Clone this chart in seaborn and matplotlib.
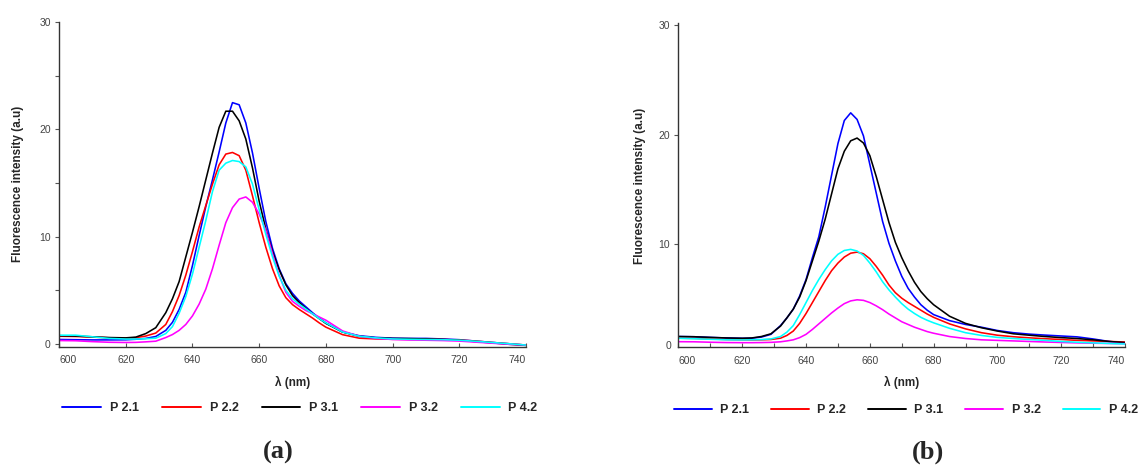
import numpy as np
import pandas as pd
import matplotlib
matplotlib.use("Agg")
import matplotlib.pyplot as plt
import matplotlib.transforms as mtransforms
from matplotlib.lines import Line2D
import seaborn as sns

# ---------------- data ----------------
wavelength = [600, 605, 610, 615, 620, 623, 626, 629,
              632, 634, 636, 638, 640, 642, 644, 646, 648, 650, 652, 654, 656, 658,
              660, 662, 664, 666, 668, 670, 672, 674, 676, 678,
              680, 685, 690, 695, 700, 705, 710, 715, 720, 725, 730, 735, 740]

samples = ["P 2.1", "P 2.2", "P 3.1", "P 3.2", "P 4.2"]
colors = ["#0000FF", "#FF0000", "#000000", "#FF00FF", "#00FFFF"]

# panel (a)
a_p21 = [0.40, 0.38, 0.36, 0.36, 0.37, 0.42, 0.50, 0.68,
         1.25, 2.0, 3.2, 4.8, 7.3, 10.1, 12.8, 15.3, 17.9, 20.6, 22.5, 22.3, 20.6, 17.8,
         14.5, 11.4, 8.9, 7.0, 5.6, 4.7, 4.0, 3.45, 2.9, 2.4,
         1.95, 1.1, 0.75, 0.60, 0.52, 0.50, 0.50, 0.45, 0.38, 0.25, 0.12, 0.00, -0.12]
a_p22 = [0.70, 0.68, 0.62, 0.56, 0.53, 0.57, 0.72, 1.0,
         1.8, 3.0, 4.5, 6.4, 8.6, 10.9, 12.9, 14.9, 16.7, 17.7, 17.85, 17.55, 16.2, 13.8,
         11.3, 9.0, 7.0, 5.4, 4.3, 3.65, 3.2, 2.8, 2.4, 1.95,
         1.55, 0.85, 0.52, 0.45, 0.42, 0.42, 0.42, 0.40, 0.35, 0.25, 0.12, 0.00, -0.12]
a_p31 = [0.75, 0.72, 0.65, 0.58, 0.55, 0.62, 0.95, 1.5,
         2.9, 4.2, 5.8, 8.1, 10.4, 12.8, 15.3, 17.8, 20.2, 21.7, 21.7, 20.8, 19.1, 16.4,
         13.3, 10.7, 8.6, 6.9, 5.5, 4.5, 3.85, 3.3, 2.8, 2.35,
         1.9, 1.1, 0.70, 0.55, 0.50, 0.48, 0.45, 0.40, 0.33, 0.20, 0.08, -0.05, -0.15]
a_p32 = [0.30, 0.28, 0.20, 0.14, 0.12, 0.13, 0.18, 0.24,
         0.58, 0.86, 1.25, 1.8, 2.6, 3.7, 5.1, 7.0, 9.2, 11.3, 12.7, 13.5, 13.7, 13.2,
         12.1, 10.6, 8.4, 6.4, 4.8, 3.95, 3.5, 3.1, 2.8, 2.5,
         2.2, 1.2, 0.70, 0.50, 0.40, 0.35, 0.33, 0.30, 0.25, 0.15, 0.05, -0.05, -0.12]
a_p42 = [0.80, 0.80, 0.65, 0.50, 0.44, 0.44, 0.47, 0.52,
         0.95, 1.6, 2.85, 4.4, 6.5, 9.0, 11.5, 14.2, 16.2, 16.85, 17.1, 17.0, 16.5, 14.9,
         12.5, 10.2, 8.1, 6.3, 5.0, 4.2, 3.7, 3.25, 2.8, 2.35,
         1.95, 1.1, 0.70, 0.55, 0.45, 0.42, 0.40, 0.38, 0.33, 0.23, 0.12, 0.00, -0.12]

# panel (b)
b_p21 = [1.60, 1.58, 1.52, 1.47, 1.44, 1.45, 1.55, 1.8,
         2.6, 3.3, 4.1, 5.3, 6.8, 8.8, 10.7, 13.4, 16.3, 19.2, 21.3, 22.0, 21.4, 19.9,
         17.3, 14.7, 12.1, 10.1, 8.5, 7.1, 6.0, 5.2, 4.5, 4.0,
         3.6, 3.05, 2.7, 2.45, 2.15, 1.95, 1.82, 1.73, 1.65, 1.57, 1.38, 1.15, 1.00]
b_p22 = [1.45, 1.43, 1.38, 1.33, 1.30, 1.29, 1.30, 1.33,
         1.45, 1.7, 2.1, 2.8, 3.7, 4.7, 5.7, 6.7, 7.6, 8.3, 8.85, 9.2, 9.3, 9.15,
         8.7, 8.0, 7.2, 6.3, 5.6, 5.1, 4.7, 4.35, 4.0, 3.65,
         3.35, 2.75, 2.3, 1.95, 1.72, 1.58, 1.48, 1.40, 1.33, 1.25, 1.20, 1.15, 1.10]
b_p31 = [1.60, 1.58, 1.52, 1.47, 1.44, 1.47, 1.6, 1.85,
         2.55, 3.3, 4.1, 5.2, 6.7, 8.5, 10.3, 12.3, 14.6, 16.9, 18.5, 19.45, 19.7, 19.25,
         18.1, 16.2, 14.1, 12.0, 10.2, 8.8, 7.6, 6.55, 5.7, 5.05,
         4.5, 3.45, 2.8, 2.4, 2.1, 1.85, 1.72, 1.60, 1.50, 1.42, 1.30, 1.15, 1.05]
b_p32 = [1.13, 1.12, 1.08, 1.05, 1.04, 1.04, 1.05, 1.07,
         1.12, 1.2, 1.3, 1.5, 1.8, 2.25, 2.75, 3.25, 3.75, 4.2, 4.6, 4.85, 4.95, 4.9,
         4.7, 4.4, 4.05, 3.65, 3.3, 2.95, 2.7, 2.45, 2.25, 2.05,
         1.9, 1.6, 1.42, 1.30, 1.25, 1.20, 1.15, 1.10, 1.06, 1.02, 0.99, 0.97, 0.95]
b_p42 = [1.44, 1.40, 1.35, 1.30, 1.29, 1.30, 1.32, 1.38,
         1.6, 2.0, 2.6, 3.6, 4.7, 5.8, 6.8, 7.7, 8.5, 9.1, 9.45, 9.55, 9.4, 9.0,
         8.3, 7.5, 6.6, 5.85, 5.2, 4.6, 4.1, 3.7, 3.35, 3.08,
         2.85, 2.35, 1.95, 1.70, 1.52, 1.42, 1.33, 1.25, 1.15, 1.08, 1.02, 0.97, 0.92]

xticks = [600, 620, 640, 660, 680, 700, 720, 740]
panel_titles = ["(a)", "(b)"]
ylabel_text = "Fluorescence intensity (a.u)"
xlabel_text = "λ (nm)"


def long_frame(series):
    rows = []
    for name, vals in zip(samples, series):
        for w, v in zip(wavelength, vals):
            rows.append((name, w, v))
    return pd.DataFrame(rows, columns=["sample", "wl", "val"])


df_a = long_frame([a_p21, a_p22, a_p31, a_p32, a_p42])
df_b = long_frame([b_p21, b_p22, b_p31, b_p32, b_p42])

# ---------------- style ----------------
sns.set_theme(style="ticks")
plt.rcParams["font.family"] = ["Liberation Sans", "DejaVu Sans"]

fig = plt.figure(figsize=(11.42, 4.66), dpi=100)
ax_a = fig.add_axes([0.0517, 0.2554, 0.4089, 0.6980])
ax_b = fig.add_axes([0.5941, 0.2543, 0.3910, 0.6953])

palette = dict(zip(samples, colors))
tick_col = "#444444"


def style_axes(ax, df, minor_x):
    sns.lineplot(data=df, x="wl", y="val", hue="sample",
                 palette=palette, hue_order=samples, ax=ax, legend=False,
                 linewidth=1.15, estimator=None, solid_joinstyle="round")
    sns.despine(ax=ax)
    for s in ("left", "bottom"):
        ax.spines[s].set_color("#333333")
        ax.spines[s].set_linewidth(1.0)
    ax.set_xlim(600, 740)
    ax.set_xticks(xticks, [str(t) for t in xticks])
    if minor_x:
        ax.set_xticks([t + 10 for t in xticks[:-1]], minor=True)
    labs = ax.get_xticklabels()
    labs[0].set_horizontalalignment("left")
    labs[-1].set_horizontalalignment("right")
    ax.tick_params(axis="x", which="both", direction="in", length=3, width=0.8,
                   color="#555555", labelsize=7.5, labelcolor=tick_col, pad=6,
                   bottom=True)
    ax.tick_params(axis="y", which="both", direction="out", length=3, width=0.8,
                   color="#555555", labelsize=7.5, labelcolor=tick_col, pad=3,
                   left=True)
    ax.set_xlabel(xlabel_text, fontweight="bold", fontsize=8.5)
    ax.xaxis.set_label_coords(0.5, -0.089)
    ax.set_ylabel(ylabel_text, fontweight="bold", fontsize=8.5)
    ax.grid(False)


style_axes(ax_a, df_a, minor_x=False)
style_axes(ax_b, df_b, minor_x=True)

# y axes
ax_a.set_ylim(-0.3, 30.05)
ax_a.set_yticks([0, 10, 20, 30])
ax_a.set_yticks([5, 15, 25], minor=True)
ax_a.yaxis.set_label_coords(-0.075, 0.5)

ax_b.set_ylim(0.6, 30.15)
ax_b.set_yticks([10, 20, 30])
ax_b.yaxis.set_label_coords(-0.073, 0.5)
trans0 = mtransforms.offset_copy(ax_b.get_yaxis_transform(), fig=fig, x=-7, y=0,
                                 units="dots")
ax_b.text(0, 0.74, "0", transform=trans0, ha="right", va="center",
          fontsize=7.5, color=tick_col)

# legends
handles = [Line2D([0], [0], color=c, lw=1.4) for c in colors]
ax_a.legend(handles, samples, loc="center", bbox_to_anchor=(0.516, -0.188), ncol=5,
            frameon=False, handlelength=3.1, handletextpad=0.7, columnspacing=1.85,
            prop={"weight": "bold", "size": 9})
ax_b.legend(handles, samples, loc="center", bbox_to_anchor=(0.5095, -0.194), ncol=5,
            frameon=False, handlelength=3.0, handletextpad=0.7, columnspacing=1.75,
            prop={"weight": "bold", "size": 9})

# panel letters
fig.text(278 / 1142, 1 - 452 / 466, panel_titles[0], ha="center", va="center",
         fontsize=19, fontweight="bold", family=["Liberation Serif", "DejaVu Serif"])
fig.text(928 / 1142, 1 - 452 / 466, panel_titles[1], ha="center", va="center",
         fontsize=19, fontweight="bold", family=["Liberation Serif", "DejaVu Serif"])

fig.savefig("out.png", dpi=100)
